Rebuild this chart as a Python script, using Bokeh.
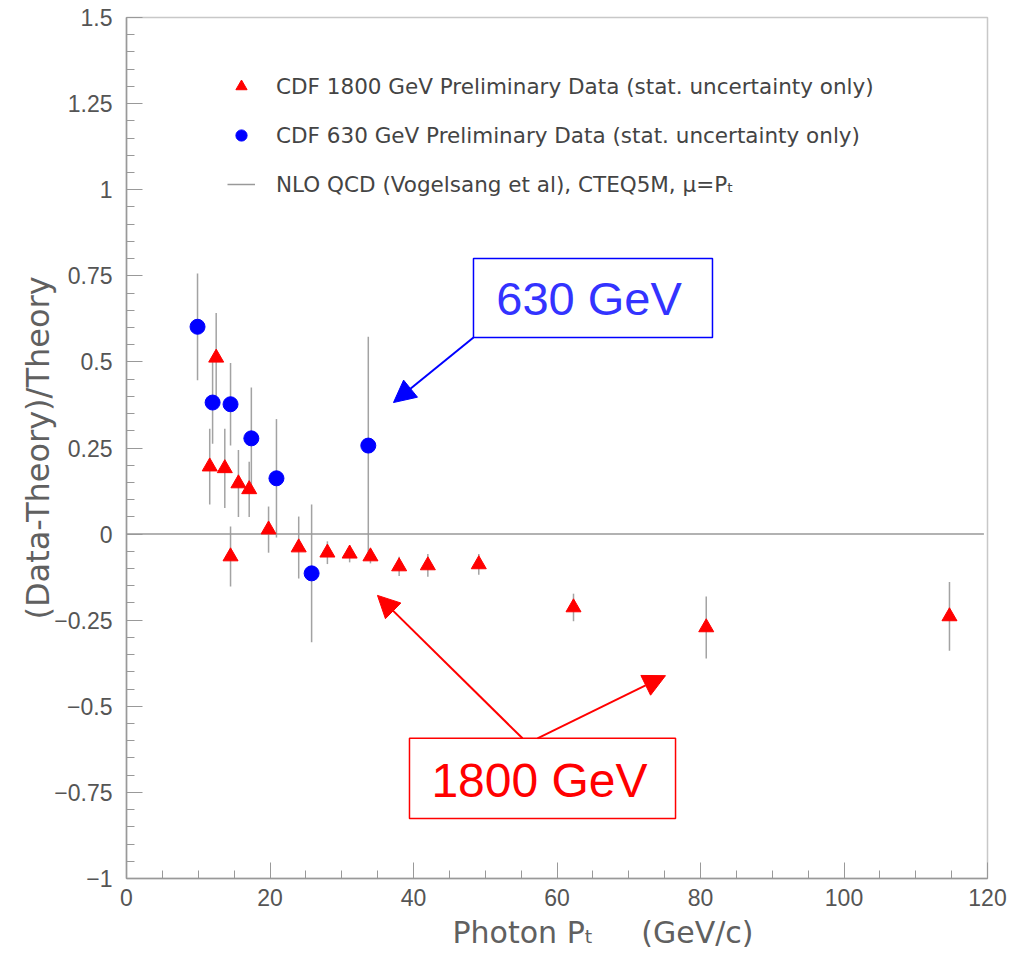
import numpy as np
from bokeh.plotting import figure
from bokeh.models import (Range1d, FixedTicker, Legend, LegendItem, Label, Title,
                          BoxAnnotation, Arrow, NormalHead, ColumnDataSource)
from bokeh.embed import file_html
from bokeh.resources import INLINE

# ---------------- data ----------------
pt_1800 = [11.6, 12.5, 13.7, 14.5, 15.6, 17.1, 19.8, 24.0, 28.0, 31.1, 34.0,
           38.0, 42.0, 49.1, 62.3, 80.8, 114.7]
ratio_1800 = [0.196, 0.512, 0.191, -0.065, 0.147, 0.130, 0.013, -0.039, -0.054,
              -0.057, -0.065, -0.094, -0.091, -0.088, -0.213, -0.271, -0.239]
err_1800 = [0.110, 0.130, 0.115, 0.087, 0.097, 0.080, 0.067, 0.090, 0.033,
            0.025, 0.020, 0.028, 0.033, 0.030, 0.040, 0.090, 0.100]

pt_630 = [9.9, 12.0, 14.5, 17.4, 20.9, 25.8, 33.7]
ratio_630 = [0.602, 0.382, 0.377, 0.278, 0.162, -0.114, 0.257]
err_630 = [0.155, 0.120, 0.120, 0.148, 0.172, 0.200, 0.316]

theory_pt = [0.0, 119.5]
theory_ratio = [0.0, 0.0]

x_ticks = [0, 20, 40, 60, 80, 100, 120]
x_minor = list(range(0, 121, 5))
y_ticks = [-1.0, -0.75, -0.5, -0.25, 0.0, 0.25, 0.5, 0.75, 1.0, 1.25, 1.5]
y_tick_labels = ["\u22121", "\u22120.75", "\u22120.5", "\u22120.25", "0", "0.25",
                 "0.5", "0.75", "1", "1.25", "1.5"]
y_minor = [round(-1.0 + 0.05 * i, 2) for i in range(51)]

legend_labels = ["CDF 1800 GeV Preliminary Data (stat. uncertainty only)",
                 "CDF 630 GeV Preliminary Data (stat. uncertainty only)",
                 "NLO QCD (Vogelsang et al), CTEQ5M, \u03bc=P\u209c"]

x_title = "Photon P\u209c" + "\u00a0" * 5 + "(GeV/c)"
y_title = "(Data-Theory)/Theory"

# ---------------- figure ----------------
p = figure(width=1022, height=954, x_range=Range1d(0, 120), y_range=Range1d(-1, 1.5),
           output_backend="svg", toolbar_location=None, title=None,
           min_border_left=126, min_border_right=35, min_border_top=17,
           min_border_bottom=76)
p.grid.visible = False
p.outline_line_color = "#c8c8c8"
p.outline_line_width = 1.5
p.background_fill_color = "white"
p.border_fill_color = "white"

TICK_FONT = "Liberation Sans"
TITLE_FONT = "DejaVu Sans"
GREY = "#555555"

for ax in (p.xaxis[0], p.yaxis[0]):
    ax.axis_line_color = "#999999"
    ax.axis_line_width = 1.5
    ax.major_tick_line_color = "#999999"
    ax.minor_tick_line_color = "#999999"
    ax.major_tick_in = 16
    ax.major_tick_out = 0
    ax.minor_tick_in = 8
    ax.minor_tick_out = 0
    ax.major_label_text_font = TICK_FONT
    ax.major_label_text_font_size = "23px"
    ax.major_label_text_color = GREY

p.xaxis[0].ticker = FixedTicker(ticks=x_ticks, minor_ticks=x_minor)
p.xaxis[0].major_label_standoff = 10
p.yaxis[0].ticker = FixedTicker(ticks=y_ticks, minor_ticks=y_minor)
p.yaxis[0].major_label_overrides = {t: l for t, l in zip(y_ticks, y_tick_labels)}
p.yaxis[0].major_label_standoff = 14
p.yaxis[0].axis_label = y_title
p.yaxis[0].axis_label_text_font = TITLE_FONT
p.yaxis[0].axis_label_text_font_size = "32px"
p.yaxis[0].axis_label_text_font_style = "normal"
p.yaxis[0].axis_label_text_color = "#606060"
p.yaxis[0].axis_label_standoff = -6

p.add_layout(Title(text=x_title, align="left", offset=326, standoff=8,
                   text_font=TITLE_FONT, text_font_size="30px",
                   text_font_style="normal", text_color="#606060"), "below")

# theory line
theory = p.line(theory_pt, theory_ratio, line_color="#999999", line_width=1.5)

# error bars
src18 = ColumnDataSource(dict(x=pt_1800, y=ratio_1800,
                              lo=[y - e for y, e in zip(ratio_1800, err_1800)],
                              hi=[y + e for y, e in zip(ratio_1800, err_1800)]))
src63 = ColumnDataSource(dict(x=pt_630, y=ratio_630,
                              lo=[y - e for y, e in zip(ratio_630, err_630)],
                              hi=[y + e for y, e in zip(ratio_630, err_630)]))
p.segment(x0="x", y0="lo", x1="x", y1="hi", source=src63, line_color="#999999",
          line_width=1.5, line_alpha=0.9)
p.segment(x0="x", y0="lo", x1="x", y1="hi", source=src18, line_color="#999999",
          line_width=1.5, line_alpha=0.9)

r18 = p.scatter(x="x", y="y", source=src18, marker="triangle", size=15,
                fill_color="#ff0000", line_color="#ff0000")
r63 = p.scatter(x="x", y="y", source=src63, marker="circle", size=15,
                fill_color="#0000ff", line_color="#0000ff")

legend = Legend(items=[LegendItem(label=legend_labels[0], renderers=[r18]),
                       LegendItem(label=legend_labels[1], renderers=[r63]),
                       LegendItem(label=legend_labels[2], renderers=[theory])],
                location=(101, 680), orientation="vertical",
                label_text_font=TITLE_FONT, label_text_font_size="21.5px",
                label_text_color="#444444", glyph_width=28, glyph_height=28,
                label_height=28, spacing=21, label_standoff=21, padding=0,
                margin=0, border_line_alpha=0, background_fill_alpha=0)
p.add_layout(legend, "center")

# annotation boxes and arrows
p.add_layout(BoxAnnotation(left=48.36, right=81.67, bottom=0.571, top=0.800,
                           fill_color="white", fill_alpha=1.0, line_color="#0000ff",
                           line_alpha=1.0, line_width=1.5))
p.add_layout(Label(x=64.46, y=0.683, text="630 GeV", text_font="Liberation Sans",
                   text_font_size="47px", text_color="#3333ff", text_align="center",
                   text_baseline="middle"))
p.add_layout(Arrow(x_start=48.36, y_start=0.571, x_end=37.21, y_end=0.382,
                   line_color="#0000ff", line_width=2,
                   end=NormalHead(size=22, fill_color="#0000ff", line_color="#0000ff")))

p.add_layout(BoxAnnotation(left=39.44, right=76.52, bottom=-0.826, top=-0.593,
                           fill_color="white", fill_alpha=1.0, line_color="#ff0000",
                           line_alpha=1.0, line_width=1.5))
p.add_layout(Label(x=57.56, y=-0.714, text="1800 GeV", text_font="Liberation Sans",
                   text_font_size="48px", text_color="#ff0000", text_align="center",
                   text_baseline="middle"))
p.add_layout(Arrow(x_start=55.19, y_start=-0.593, x_end=34.98, y_end=-0.178,
                   line_color="#ff0000", line_width=2,
                   end=NormalHead(size=22, fill_color="#ff0000", line_color="#ff0000")))
p.add_layout(Arrow(x_start=57.28, y_start=-0.593, x_end=75.12, y_end=-0.411,
                   line_color="#ff0000", line_width=2,
                   end=NormalHead(size=22, fill_color="#ff0000", line_color="#ff0000")))

open("out.html", "w").write(file_html(p, INLINE))
